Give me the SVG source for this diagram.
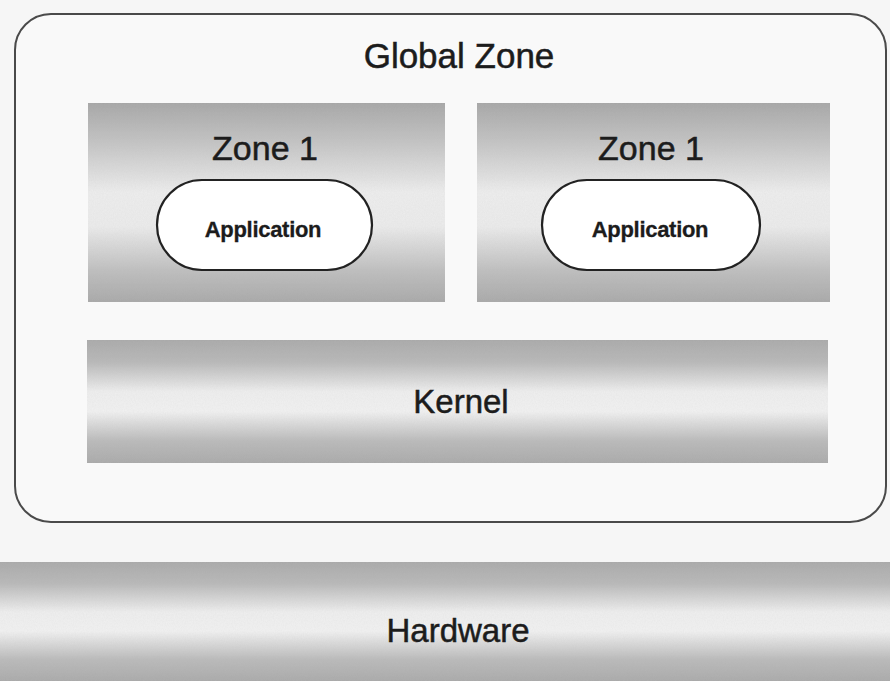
<svg xmlns="http://www.w3.org/2000/svg" width="890" height="681" viewBox="0 0 890 681">
  <defs>
    <!-- shaded band: grey at top and bottom, pale in the middle -->
    <linearGradient id="band" x1="0" y1="0" x2="0" y2="1">
      <stop offset="0" stop-color="#a9a9a9"/>
      <stop offset="0.18" stop-color="#b8b8b8"/>
      <stop offset="0.42" stop-color="#efefef"/>
      <stop offset="0.58" stop-color="#f2f2f2"/>
      <stop offset="0.82" stop-color="#bababa"/>
      <stop offset="1" stop-color="#a9a9a9"/>
    </linearGradient>
    <linearGradient id="zoneBand" x1="0" y1="0" x2="0" y2="1">
      <stop offset="0" stop-color="#a6a6a6"/>
      <stop offset="0.2" stop-color="#c4c4c4"/>
      <stop offset="0.45" stop-color="#eeeeee"/>
      <stop offset="0.62" stop-color="#ececec"/>
      <stop offset="0.85" stop-color="#bdbdbd"/>
      <stop offset="1" stop-color="#a8a8a8"/>
    </linearGradient>
    <filter id="grain" x="0" y="0" width="1" height="1">
      <feTurbulence type="fractalNoise" baseFrequency="0.9 0.6" numOctaves="2" seed="3" result="n"/>
      <feColorMatrix in="n" type="matrix" values="0 0 0 0 0.5  0 0 0 0 0.5  0 0 0 0 0.5  0 0 0 0.18 0" result="g"/>
      <feComposite in="g" in2="SourceGraphic" operator="in" result="gm"/>
      <feMerge><feMergeNode in="SourceGraphic"/><feMergeNode in="gm"/></feMerge>
    </filter>
  </defs>
  <style>
    text { font-family: "Liberation Sans", Arial, sans-serif; fill: #1c1c1c; stroke: #1c1c1c; stroke-width: 0.5; text-anchor: middle; }
    .title { font-size: 35px; }
    .zone-label { font-size: 34px; }
    .app-label { font-size: 22px; font-weight: bold; letter-spacing: -0.3px; stroke-width: 0.3; }
    .layer-label { font-size: 33px; }
    .pill { fill: #ffffff; stroke: #222222; stroke-width: 2.2; }
    .frame { fill: #f9f9f9; stroke: #4a4a4a; stroke-width: 2; }
  </style>

  <rect x="0" y="0" width="890" height="681" fill="#f6f6f6"/>

  <g id="global-zone">
    <rect class="frame" x="15" y="14" width="871" height="508" rx="36" ry="36"/>
    <text class="title" x="459" y="68">Global Zone</text>
  </g>

  <g id="zone-left">
    <rect x="88" y="103" width="357" height="199" fill="url(#zoneBand)" filter="url(#grain)"/>
    <text class="zone-label" x="265" y="160">Zone 1</text>
  </g>

  <g id="app-left">
    <rect class="pill" x="157" y="180" width="215" height="90" rx="45" ry="45"/>
    <text class="app-label" x="263" y="237">Application</text>
  </g>

  <g id="zone-right">
    <rect x="477" y="103" width="353" height="199" fill="url(#zoneBand)" filter="url(#grain)"/>
    <text class="zone-label" x="651" y="160">Zone 1</text>
  </g>

  <g id="app-right">
    <rect class="pill" x="542" y="180" width="218" height="90" rx="45" ry="45"/>
    <text class="app-label" x="650" y="237">Application</text>
  </g>

  <g id="kernel">
    <rect x="87" y="340" width="741" height="123" fill="url(#band)" filter="url(#grain)"/>
    <text class="layer-label" x="461" y="413">Kernel</text>
  </g>

  <g id="hardware">
    <rect x="0" y="562" width="890" height="119" fill="url(#band)" filter="url(#grain)"/>
    <text class="layer-label" x="458" y="642">Hardware</text>
  </g>

  <g id="connectors"/>
</svg>
